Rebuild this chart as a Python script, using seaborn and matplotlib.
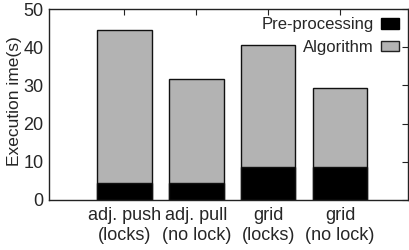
import numpy as np
import pandas as pd
import seaborn as sns
from matplotlib import pyplot as plt
from matplotlib.patches import Patch

# data
labels = ["adj. push\n(locks)", "adj. pull\n(no lock)", "grid\n(locks)", "grid\n(no lock)"]
preprocessing = [4.45, 4.4, 8.6, 8.6]
algorithm = [40.0, 27.2, 32.0, 20.8]

df = pd.DataFrame({"label": labels, "pre": preprocessing, "algo": algorithm})
df["total"] = df["pre"] + df["algo"]

sns.set_style("white")
plt.rcParams['font.family'] = ['Liberation Sans', 'DejaVu Sans']

fig = plt.figure(figsize=(4.09, 2.5), dpi=100)
ax = fig.add_axes([0.12, 0.2, 0.878, 0.764])

sns.barplot(data=df, x="label", y="total", color="#b3b3b3", saturation=1,
            width=0.76, edgecolor="#111111", linewidth=1.0, ax=ax)
sns.barplot(data=df, x="label", y="pre", color="black", saturation=1,
            width=0.76, edgecolor="#111111", linewidth=1.0, ax=ax)

ax.set_xlim(-1.05, 3.95)
ax.set_ylim(0, 50)
ax.set_yticks([0, 10, 20, 30, 40, 50])
ax.set_xlabel("")
ax.set_ylabel("Execution ime(s)", fontsize=12.5, labelpad=0)
ax.tick_params(axis="both", direction="in", length=4, width=0.8,
               top=True, right=True, labelsize=13, pad=4, color="#222222")
ax.tick_params(axis="x", pad=5)
ax.yaxis.set_label_coords(-0.075, 0.52)
for s in ax.spines.values():
    s.set_visible(True)
    s.set_color("#222222")
    s.set_linewidth(1.0)

handles = [Patch(facecolor="black", edgecolor="black", label="Pre-processing"),
           Patch(facecolor="#b3b3b3", edgecolor="#222222", label="Algorithm")]
ax.legend(handles=handles, loc="upper right", frameon=False, markerfirst=False,
          fontsize=12, handlelength=1.1, handleheight=0.6, handletextpad=0.45,
          labelspacing=0.45, borderaxespad=0.1, bbox_to_anchor=(0.999, 1.0))

fig.savefig("out.png", dpi=100)
